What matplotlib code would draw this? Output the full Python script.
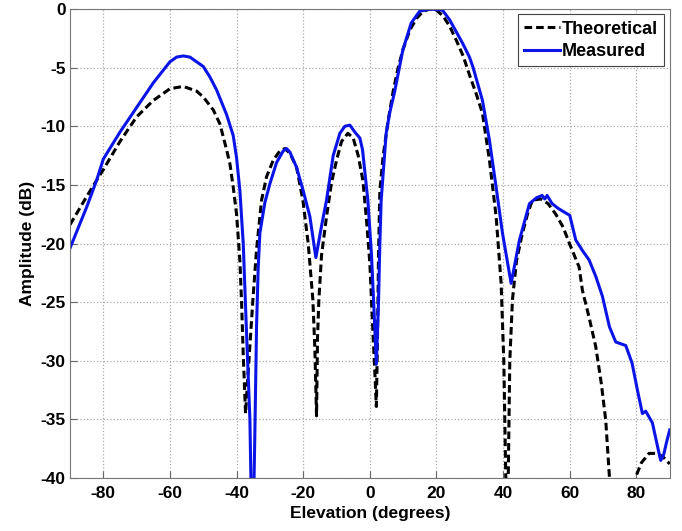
import matplotlib.pyplot as plt
from matplotlib.font_manager import FontProperties

# Theoretical pattern (elevation deg, amplitude dB)
theo_angle = [-90, -85, -82, -80, -75, -70, -65, -60, -56, -52, -50, -47, -45, -43, -42, -41, -40,
              -39, -38.5, -38, -37.3, -36.3, -35.1, -34, -32.5, -31, -29, -27, -25.5, -24, -22,
              -20.1, -18.5, -17.1, -16.5, -16, -15.7, -15.3, -14.5, -13, -11.5, -10, -8.5, -6.6,
              -5, -3.5, -2.1, -1, 0, 0.9, 1.5, 1.95, 2.3, 2.6, 3, 4, 5.5, 7, 8.5, 10, 12, 14, 16,
              18, 20, 22, 24, 26, 28, 30, 32, 33.8, 35.9, 37.9, 39.4, 40.2, 40.8, 41.3, 42, 42.8,
              44, 45.8, 47.5, 48.8, 51.3, 53.5, 55.8, 58, 59.9, 62.8, 63.8, 65.8, 67.8, 69.5,
              70.8, 71.9, 72.5, 79, 79.8, 81.5, 83.8, 86.2, 88, 90]
theo_db = [-18.4, -16.0, -14.6, -13.7, -11.3, -9.2, -7.8, -6.8, -6.6, -7.0, -7.5, -8.6, -9.8, -12.0,
           -13.2, -15.2, -17.5, -21.5, -25.0, -29.5, -34.5, -30.0, -24.8, -20.5, -16.3, -14.3,
           -12.9, -12.1, -11.9, -12.3, -13.5, -16.3, -20.0, -24.8, -29.0, -34.7, -28.0, -24.8,
           -21.0, -17.7, -14.8, -12.9, -11.3, -10.6, -11.0, -12.5, -14.6, -18.0, -21.7, -27.4,
           -31.0, -33.9, -28.0, -21.0, -15.5, -12.5, -9.5, -7.0, -5.0, -3.4, -1.8, -0.8, -0.2,
           0.0, -0.1, -0.6, -1.5, -2.7, -4.0, -5.7, -7.3, -8.9, -12.9, -17.7, -23.4, -30.0,
           -40.0, -45.0, -30.0, -24.8, -21.5, -19.1, -17.3, -16.3, -16.2, -16.6, -17.5, -18.6,
           -20.0, -22.0, -24.0, -26.3, -28.8, -32.0, -35.1, -39.9, -42.0, -42.0, -39.9, -38.7,
           -37.9, -37.9, -38.2, -38.8]

# Measured pattern
meas_angle = [-90, -85, -82, -80, -75, -70, -65, -60, -58, -56, -54, -52, -50, -48, -46, -45, -43,
              -41, -40, -39, -38, -37, -36, -35.4, -35, -34.5, -34, -33.5, -33, -31.5, -30, -28,
              -26, -25, -24, -22, -20, -18, -16.2, -14.5, -13, -11, -9, -7.5, -6, -4.5, -3, -2.2,
              -0.6, 0.5, 1.3, 1.95, 2.6, 3, 3.4, 4.9, 6, 7.4, 9.9, 12.4, 14.9, 18, 21.8, 23.9,
              27.8, 29.9, 31, 33.8, 35.9, 37.9, 39.8, 42.4, 44.9, 47.9, 50, 51.7, 52.5, 53.2,
              54.7, 56.5, 58.8, 60, 61.8, 63.8, 65.8, 67.8, 69.8, 71.9, 73.8, 76.8, 78.7, 80.3,
              81.8, 82.8, 84.8, 86.8, 87.3, 88.2, 89, 90]
meas_db = [-20.4, -16.9, -14.6, -12.8, -10.5, -8.4, -6.3, -4.5, -4.1, -4.0, -4.1, -4.5, -4.9, -5.8,
           -6.9, -7.6, -9.0, -10.8, -12.7, -15.5, -20.0, -27.7, -35.0, -45.0, -44.0, -36.0, -27.0,
           -22.0, -19.1, -16.5, -14.9, -13.1, -12.1, -11.9, -12.2, -13.5, -15.5, -17.7, -21.2,
           -18.5, -16.3, -12.5, -10.6, -10.0, -9.9, -10.5, -11.0, -12.0, -16.3, -21.0, -26.0,
           -30.3, -25.0, -20.0, -16.3, -10.6, -8.8, -7.1, -3.5, -1.2, -0.2, 0.0, -0.1, -0.9,
           -2.9, -4.1, -5.0, -7.8, -11.2, -15.2, -19.1, -23.4, -19.7, -16.6, -16.1, -15.9,
           -16.2, -15.9, -16.6, -17.0, -17.4, -17.6, -19.7, -20.6, -21.4, -22.8, -24.5, -27.1,
           -28.4, -28.7, -30.2, -32.5, -34.5, -34.3, -35.3, -37.9, -38.5, -38.0, -37.0, -35.9]

x_ticks = [-80, -60, -40, -20, 0, 20, 40, 60, 80]
y_ticks = [0, -5, -10, -15, -20, -25, -30, -35, -40]
x_labels = ['-80', '-60', '-40', '-20', '0', '20', '40', '60', '80']
y_labels = ['0', '-5', '-10', '-15', '-20', '-25', '-30', '-35', '-40']

plt.rcParams['font.family'] = 'Liberation Sans'
plt.rcParams['font.weight'] = 'bold'
plt.rcParams['axes.unicode_minus'] = False

bold = FontProperties(family='Liberation Sans', weight='bold', size=12.5)
bold_leg = FontProperties(family='Liberation Sans', weight='bold', size=13)

fig = plt.figure(figsize=(6.82, 5.31), dpi=100)
ax = fig.add_axes([0.1026, 0.0998, 0.8794, 0.8832])

ax.plot(theo_angle, theo_db, color='black', linewidth=2.2, dashes=(2.5, 1.3), label='Theoretical')
ax.plot(meas_angle, meas_db, color='#0a14e6', linewidth=2.2, label='Measured')

ax.set_xlim(-90, 90)
ax.set_ylim(-40, 0)
ax.set_xticks(x_ticks)
ax.set_yticks(y_ticks)
ax.set_xticklabels(x_labels, fontproperties=bold)
ax.set_yticklabels(y_labels, fontproperties=bold)
ax.tick_params(direction='in', color='#666666', length=5, width=0.8)
ax.tick_params(axis='x', pad=6)
ax.tick_params(axis='y', pad=3)
for s in ax.spines.values():
    s.set_color('#777777')

ax.grid(True, linestyle=':', color='#aaaaaa', linewidth=0.9)

ax.set_xlabel('Elevation (degrees)', fontproperties=bold, labelpad=3)
ax.set_ylabel('Amplitude (dB)', fontproperties=bold, labelpad=4)

leg = ax.legend(loc='upper right', prop=bold_leg, handlelength=2.0,
                handletextpad=0.1, borderpad=0.35, labelspacing=0.3, fancybox=False,
                framealpha=1, borderaxespad=0.3)
leg.get_frame().set_edgecolor('#444444')
leg.get_frame().set_linewidth(0.8)

plt.savefig('out.png', dpi=100)
